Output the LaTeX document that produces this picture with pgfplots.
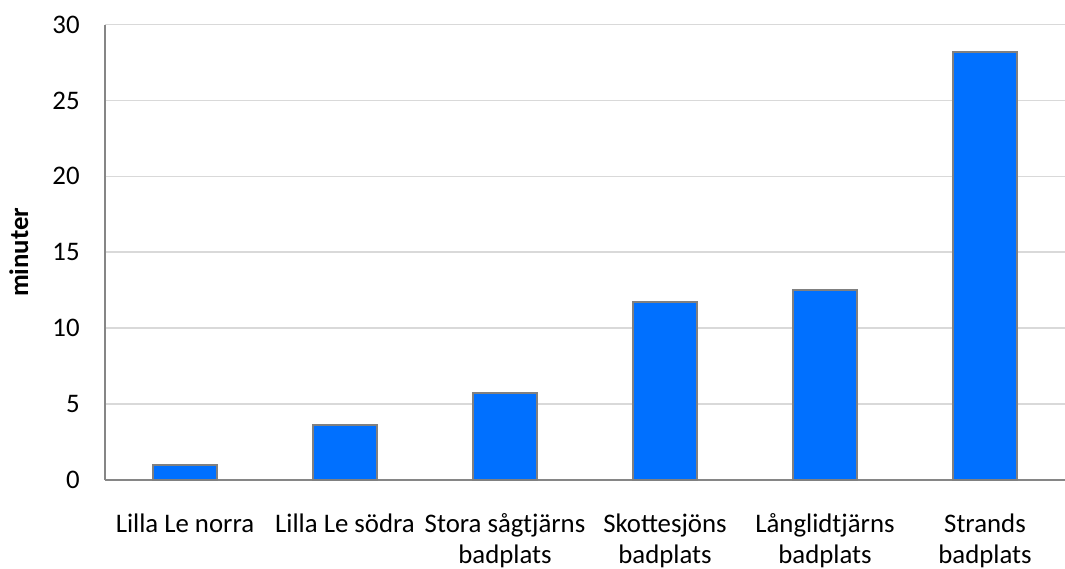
\documentclass[border=0pt]{standalone}
\usepackage{pgfplots}
\pgfplotsset{compat=1.18}
\usepackage{fontspec}
\setmainfont{Carlito}
\definecolor{barblue}{RGB}{0,112,255}
\definecolor{baredge}{RGB}{128,128,128}
\definecolor{gridgray}{RGB}{217,217,217}
\definecolor{axisgray}{RGB}{134,134,134}

\begin{document}
\fontsize{13.4}{15.6}\selectfont
\begin{tikzpicture}
\begin{axis}[
    scale only axis, width=480pt, height=227.75pt,
    xmin=-0.5, xmax=5.5, ymin=0, ymax=30,
    ytick={0,5,...,30}, xtick=data,
    xticklabels={\strut Lilla Le norra, \strut Lilla Le södra, {\strut Stora sågtjärns\\badplats},
                 {\strut Skottesjöns\\badplats}, {\strut Långlidtjärns\\badplats}, {\strut Strands\\badplats}},
    axis x line*=bottom, axis y line*=left,
    axis line style={axisgray, line width=0.75pt, -},
    major tick length=0pt,
    ymajorgrids, grid style={gridgray, line width=0.8pt},
    /pgf/number format/assume math mode=true,
    yticklabel style={xshift=-8pt},
    xticklabel style={align=center, yshift=-10.5pt},
    ylabel={\textbf{minuter}},
    ylabel style={at={(axis description cs:-0.0702,0.5)}, anchor=south},
    ybar, bar width=0.406,
]
    \addplot[fill=barblue, draw=baredge, line width=1pt] coordinates {
        (0,1.0) (1,3.6) (2,5.7) (3,11.7) (4,12.5) (5,28.2)
    };
\end{axis}
\pgfresetboundingbox
\path[use as bounding box] (-52.5pt,-44pt) rectangle (480pt,240pt);
\end{tikzpicture}
\end{document}
